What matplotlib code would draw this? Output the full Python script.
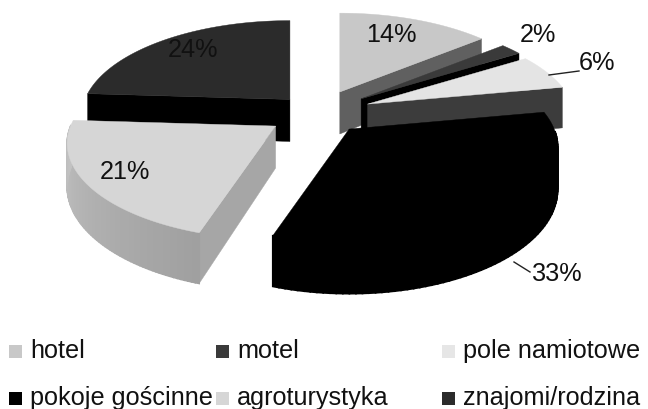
import numpy as np
import matplotlib
matplotlib.use("Agg")
import matplotlib.pyplot as plt
from matplotlib.patches import Polygon, Rectangle

categories = ["hotel", "motel", "pole namiotowe", "pokoje gościnne", "agroturystyka", "znajomi/rodzina"]
values = [14, 2, 6, 33, 21, 24]
explode = [0.25, 0.26, 0.26, 0.23, 0.25, 0.20]

top_colors = ["#c8c8c8", "#3a3a3a", "#e4e4e4", "#000000", "#d6d6d6", "#2b2b2b"]
wall_colors = ["#606060", "#000000", "#3c3c3c", "#000000", "#a6a6a6", "#000000"]
legend_colors = ["#c8c8c8", "#3a3a3a", "#e6e6e6", "#000000", "#d6d6d6", "#2b2b2b"]
draw_order = [5, 0, 1, 2, 4, 3]

CX, CY = 318, 113
RX, RY, K, DEPTH = 205, 93, 0.18, 42
FS = 18.2

fig = plt.figure(figsize=(6.48, 4.09), dpi=100)
ax = fig.add_axes([0, 0, 1, 1])
ax.set_xlim(0, 648)
ax.set_ylim(409, 0)
ax.axis("off")
plt.rcParams["font.family"] = ["Liberation Sans", "DejaVu Sans"]


def project(theta):
    """Offset of a rim point from the apex, plus its depth scale."""
    u, v = np.sin(theta), np.cos(theta)
    s = 1 / (1 + K * v)
    return RX * u * s, -RY * v * s, s


def gray_mix(a, b, t):
    ca, cb = np.array(matplotlib.colors.to_rgb(a)), np.array(matplotlib.colors.to_rgb(b))
    return tuple(ca + (cb - ca) * t)


edges = np.deg2rad(np.concatenate([[0], np.cumsum(values)]) * 3.6)
for i in draw_order:
    t1, t2 = edges[i], edges[i + 1]
    mid = (t1 + t2) / 2
    ax_, ay_ = CX + explode[i] * np.sin(mid) * RX, CY - explode[i] * np.cos(mid) * RY
    apex = np.array([ax_, ay_])
    thetas = np.linspace(t1, t2, 80)
    dx, dy, s = project(thetas)
    rim = np.column_stack([ax_ + dx, ay_ + dy])
    rim_low = rim + np.column_stack([np.zeros_like(s), DEPTH * s])
    apex_low = apex + [0, DEPTH]

    if np.sin(t1) < -1e-6:
        ax.add_patch(Polygon([apex, rim[0], rim_low[0], apex_low], fc=wall_colors[i], ec=wall_colors[i], lw=0.3))
    if np.sin(t2) > 1e-6:
        ax.add_patch(Polygon([apex, rim[-1], rim_low[-1], apex_low], fc=wall_colors[i], ec=wall_colors[i], lw=0.3))
    for j in range(len(thetas) - 1):
        if np.cos(thetas[j]) < 0:
            f = (thetas[j] - t1) / (t2 - t1)
            c = gray_mix("#a0a0a0", "#c4c4c4", f) if i == 4 else wall_colors[i]
            ax.add_patch(Polygon([rim[j], rim[j + 1], rim_low[j + 1], rim_low[j]], fc=c, ec=c, lw=1.2))
    ax.add_patch(Polygon(np.vstack([apex, rim]), fc=top_colors[i], ec=top_colors[i], lw=0.3))

label_pos = [(391, 35), (538, 35), (597, 63), (557, 274), (125, 172), (193, 50)]
for v, (x, y) in zip(values, label_pos):
    ax.text(x, y, f"{v}%", ha="center", va="center", fontsize=FS, color="#111111")
ax.plot([549, 579], [75, 71], color="#222222", lw=1)
ax.plot([514, 530], [262, 272], color="#222222", lw=1)

leg_x = [9, 216, 442, 9, 216, 442]
leg_y = [351, 351, 351, 398, 398, 398]
for name, c, x, y in zip(categories, legend_colors, leg_x, leg_y):
    ax.add_patch(Rectangle((x, y - 6), 13, 13, fc=c, ec="none"))
    ax.text(x + 21, y, name, ha="left", va="center", fontsize=FS, color="#111111")

fig.savefig("out.png", dpi=100)
